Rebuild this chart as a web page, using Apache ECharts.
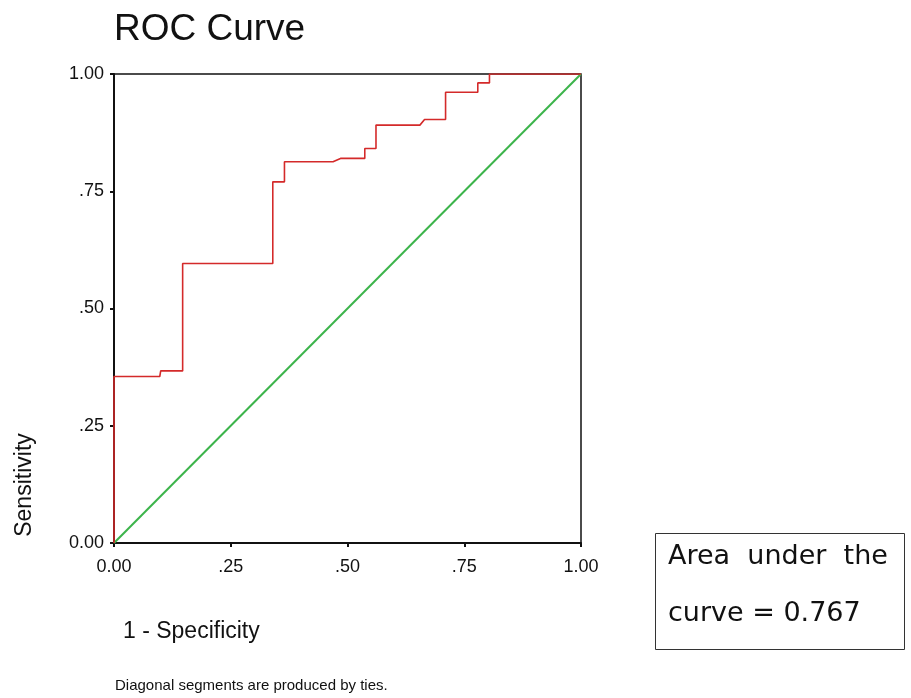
<!DOCTYPE html>
<html>
<head>
<meta charset="utf-8">
<script src="https://cdn.jsdelivr.net/npm/echarts@6/dist/echarts.min.js"></script>
<style>
  html, body { margin: 0; padding: 0; background: #fff; }
  #chart { width: 911px; height: 698px; }
</style>
</head>
<body>
<div id="chart"></div>
<script>
// ROC curve vertices (1 - specificity, sensitivity)
var rocFpr = [0, 0, 0.098, 0.100, 0.147, 0.147, 0.340, 0.340, 0.365, 0.365, 0.469, 0.485, 0.537, 0.537, 0.561, 0.561, 0.655, 0.665, 0.710, 0.710, 0.779, 0.779, 0.804, 0.804, 1.0];
var rocTpr = [0, 0.355, 0.355, 0.367, 0.367, 0.596, 0.596, 0.770, 0.770, 0.813, 0.813, 0.820, 0.820, 0.841, 0.841, 0.891, 0.891, 0.903, 0.903, 0.961, 0.961, 0.981, 0.981, 1.0, 1.0];
// reference line
var refX = [0, 1];
var refY = [0, 1];
var tickValues = [0, 0.25, 0.5, 0.75, 1];
var tickText = ["0.00", ".25", ".50", ".75", "1.00"];

function fmt(v) {
	for (var i = 0; i < tickValues.length; i++) {
		if (Math.abs(tickValues[i] - v) < 1e-6) return tickText[i];
	}
	return "";
}

var rocData = [];
for (var i = 0; i < rocFpr.length; i++) rocData.push([rocFpr[i], rocTpr[i]]);
var refData = [];
for (var j = 0; j < refX.length; j++) refData.push([refX[j], refY[j]]);

var chart = echarts.init(document.getElementById('chart'));
var font = "'Liberation Sans', Arial, sans-serif";
chart.setOption({
	animation: false,
	backgroundColor: '#fff',
	grid: {
		left: 114, right: 330, top: 74, bottom: 155,
		show: true, borderColor: '#111', borderWidth: 1.5
	},
	xAxis: {
		type: 'value', min: 0, max: 1, interval: 0.25,
		axisLine: { show: true, lineStyle: { color: '#111', width: 2 } },
		axisTick: { show: true, length: 4, lineStyle: { color: '#111', width: 2 } },
		splitLine: { show: false },
		axisLabel: { formatter: fmt, fontFamily: font, fontSize: 18, color: '#111', margin: 15 }
	},
	yAxis: {
		type: 'value', min: 0, max: 1, interval: 0.25,
		axisLine: { show: true, lineStyle: { color: '#111', width: 2 } },
		axisTick: { show: true, length: 4, lineStyle: { color: '#111', width: 2 } },
		splitLine: { show: false },
		axisLabel: { formatter: fmt, fontFamily: font, fontSize: 18, color: '#111', margin: 10 }
	},
	series: [{
		type: 'line', data: refData, symbol: 'none', z: 2,
		lineStyle: { color: '#3cb44b', width: 2 }
	}, {
		type: 'line', data: rocData, symbol: 'none', z: 3,
		lineStyle: { color: '#d42a2a', width: 1.6 }
	}],
	graphic: [
		{ type: 'text', left: 114, top: 11, style: { text: 'ROC Curve', font: "37px 'Liberation Sans', Arial, sans-serif", fill: '#111' } },
		{ type: 'text', x: 25, y: 485, rotation: Math.PI / 2,
		  style: { text: 'Sensitivity', font: "23px 'Liberation Sans', Arial, sans-serif", fill: '#111', align: 'center', verticalAlign: 'middle' } },
		{ type: 'text', left: 123, top: 620, style: { text: '1 - Specificity', font: "23px 'Liberation Sans', Arial, sans-serif", fill: '#111' } },
		{ type: 'text', left: 115, top: 678, style: { text: 'Diagonal segments are produced by ties.', font: "15px 'Liberation Sans', Arial, sans-serif", fill: '#111' } },
		{ type: 'rect', shape: { x: 655.5, y: 533.5, width: 249, height: 116 }, style: { fill: '#fff', stroke: '#333', lineWidth: 1 } },
		{ type: 'text', left: 668, top: 543, style: { text: 'Area  under  the', font: "27px 'DejaVu Sans', Verdana, sans-serif", fill: '#111' } },
		{ type: 'text', left: 668, top: 600, style: { text: 'curve = 0.767', font: "27px 'DejaVu Sans', Verdana, sans-serif", fill: '#111' } }
	]
});
</script>
</body>
</html>
